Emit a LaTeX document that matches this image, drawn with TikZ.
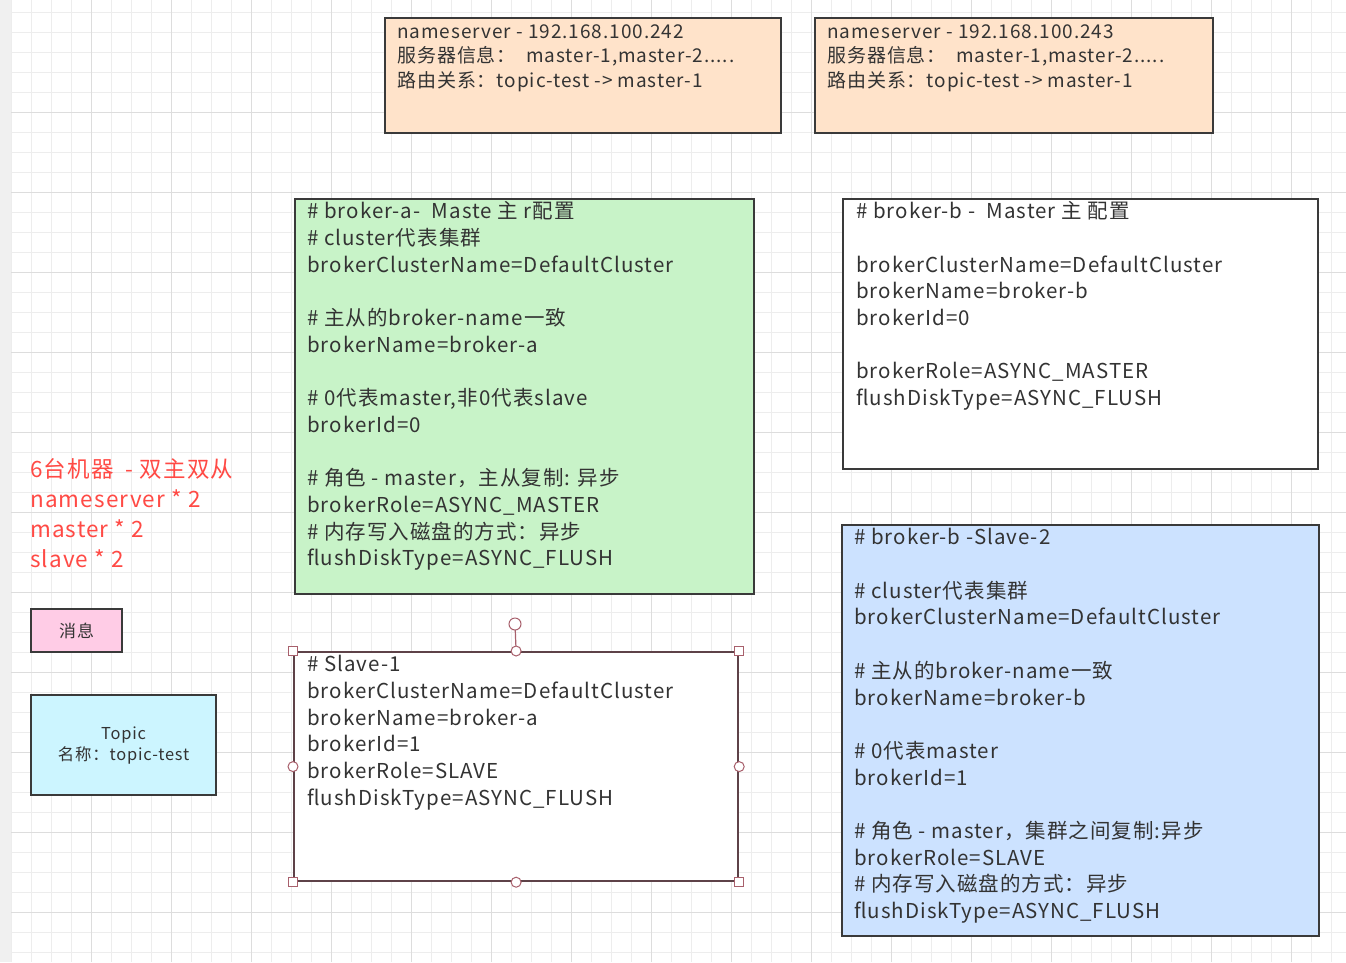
\documentclass[tikz,border=0pt]{standalone}
\usepackage{fontspec}
\setmainfont[LetterSpace=5]{Noto Sans CJK SC}
\definecolor{gridminor}{HTML}{EDEDED}
\definecolor{gridmajor}{HTML}{DDDDDD}
\definecolor{strip}{HTML}{F0F0F0}
\definecolor{boxline}{HTML}{3A3A3A}
\definecolor{txtc}{HTML}{333333}
\definecolor{nsfill}{HTML}{FFE3CA}
\definecolor{greenfill}{HTML}{C8F3C8}
\definecolor{bluefill}{HTML}{CCE2FF}
\definecolor{pinkfill}{HTML}{FFCCE6}
\definecolor{cyanfill}{HTML}{CCF5FF}
\definecolor{redtxt}{HTML}{FF4A45}
\definecolor{selline}{HTML}{5E4248}
\definecolor{handle}{HTML}{A8606C}
\begin{document}
\begin{tikzpicture}[x=1pt,y=-1pt,
  box/.style={draw=boxline, line width=2.2pt, inner sep=0pt, anchor=north west},
  boxtxt/.style={anchor=north west, inner sep=0pt, align=left, text=txtc, font=\fontsize{20.5}{26.7}\selectfont},
  nstxt/.style={anchor=north west, inner sep=0pt, align=left, text=txtc, font=\fontsize{19}{24.5}\selectfont},
  rednote/.style={anchor=north west, inner sep=0pt, align=left, text=redtxt, font=\fontsize{22.5}{30}\selectfont},
  sqhandle/.style={draw=handle, fill=white, line width=1pt, minimum size=9pt, inner sep=0pt},
  cirhandle/.style={draw=handle, fill=white, line width=1pt, circle, minimum size=10pt, inner sep=0pt}
]
\useasboundingbox (0,0) rectangle (1346,962);
\fill[white] (0,0) rectangle (1346,962);
% grid
\foreach \x in {11.7,31.7,...,1346} \draw[gridminor, line width=1pt] (\x,0) -- (\x,962);
\foreach \y in {12.7,32.7,...,962} \draw[gridminor, line width=1pt] (11,\y) -- (1346,\y);
\foreach \x in {91.7,171.7,...,1346} \draw[gridmajor, line width=1pt] (\x,0) -- (\x,962);
\foreach \y in {112.7,192.7,...,962} \draw[gridmajor, line width=1pt] (11,\y) -- (1346,\y);
\fill[strip] (0,0) rectangle (11,962);

% nameservers
\node[box, fill=nsfill, minimum width=396pt, minimum height=115pt] (ns1) at (384,17) {};
\node[nstxt] (ns1t) at (397,21) {\strut nameserver - 192.168.100.242\\服务器信息：\ \ master-1,master-2.....\\路由关系：topic-test -> master-1};
\node[box, fill=nsfill, minimum width=398pt, minimum height=115pt] (ns2) at (814,17) {};
\node[nstxt] (ns2t) at (827,21) {\strut nameserver - 192.168.100.243\\服务器信息：\ \ master-1,master-2.....\\路由关系：topic-test -> master-1};

% broker-a master
\node[box, fill=greenfill, minimum width=459pt, minimum height=395pt] (bam) at (294,198) {};
\node[boxtxt] (bamt) at (307,199.9) {\strut \# broker-a-\ \ Maste 主 r配置\\\# cluster代表集群\\brokerClusterName=DefaultCluster\\\mbox{}\\\# 主从的broker-name一致\\brokerName=broker-a\\\mbox{}\\\# 0代表master,非0代表slave\\brokerId=0\\\mbox{}\\\# 角色 - master，主从复制: 异步\\brokerRole=ASYNC\_MASTER\\\# 内存写入磁盘的方式：异步\\flushDiskType=ASYNC\_FLUSH};

% broker-b master
\node[box, fill=white, minimum width=475pt, minimum height=270pt] (bbm) at (842,198) {};
\node[boxtxt] (bbmt) at (856,199.9) {\strut \# broker-b -\ \ Master 主 配置\\\mbox{}\\brokerClusterName=DefaultCluster\\brokerName=broker-b\\brokerId=0\\\mbox{}\\brokerRole=ASYNC\_MASTER\\flushDiskType=ASYNC\_FLUSH};

% broker-b slave
\node[box, fill=bluefill, minimum width=477pt, minimum height=411pt] (bbs) at (841,524) {};
\node[boxtxt] (bbst) at (854,525.9) {\strut \# broker-b -Slave-2\\\mbox{}\\\# cluster代表集群\\brokerClusterName=DefaultCluster\\\mbox{}\\\# 主从的broker-name一致\\brokerName=broker-b\\\mbox{}\\\# 0代表master\\brokerId=1\\\mbox{}\\\# 角色 - master，集群之间复制:异步\\brokerRole=SLAVE\\\# 内存写入磁盘的方式：异步\\flushDiskType=ASYNC\_FLUSH};

% slave-1 (selected)
\node[draw=selline, line width=2.2pt, inner sep=0pt, anchor=north west, fill=white, minimum width=444pt, minimum height=229pt] (s1) at (293,651) {};
\node[boxtxt] (s1t) at (307,652.9) {\strut \# Slave-1\\brokerClusterName=DefaultCluster\\brokerName=broker-a\\brokerId=1\\brokerRole=SLAVE\\flushDiskType=ASYNC\_FLUSH};
\coordinate (rot) at (515,624);
\draw[handle, line width=1.2pt] (rot) -- (s1.north);
\node[cirhandle, minimum size=12pt] (hrot) at (rot) {};
\node[sqhandle] (h1) at (s1.north west) {};
\node[sqhandle] (h2) at (s1.north east) {};
\node[sqhandle] (h3) at (s1.south west) {};
\node[sqhandle] (h4) at (s1.south east) {};
\node[cirhandle] (h5) at (s1.north) {};
\node[cirhandle] (h6) at (s1.south) {};
\node[cirhandle] (h7) at (s1.west) {};
\node[cirhandle] (h8) at (s1.east) {};

% left notes
\node[rednote] (note) at (30,456.5) {\strut 6台机器\ \ - 双主双从\\nameserver * 2\\master * 2\\slave * 2};
\node[box, fill=pinkfill, minimum width=91pt, minimum height=43pt] (msg) at (30,608) {};
\node[text=txtc, font=\fontsize{17}{21}\selectfont, inner sep=0pt] (msgt) at (msg.center) {消息};
\node[box, fill=cyanfill, minimum width=185pt, minimum height=100pt] (topic) at (30,694) {};
\node[text=txtc, font=\fontsize{16.4}{21}\selectfont, inner sep=0pt, align=center] (topict) at (topic.center) {Topic\\名称：topic-test};
\end{tikzpicture}
\end{document}
